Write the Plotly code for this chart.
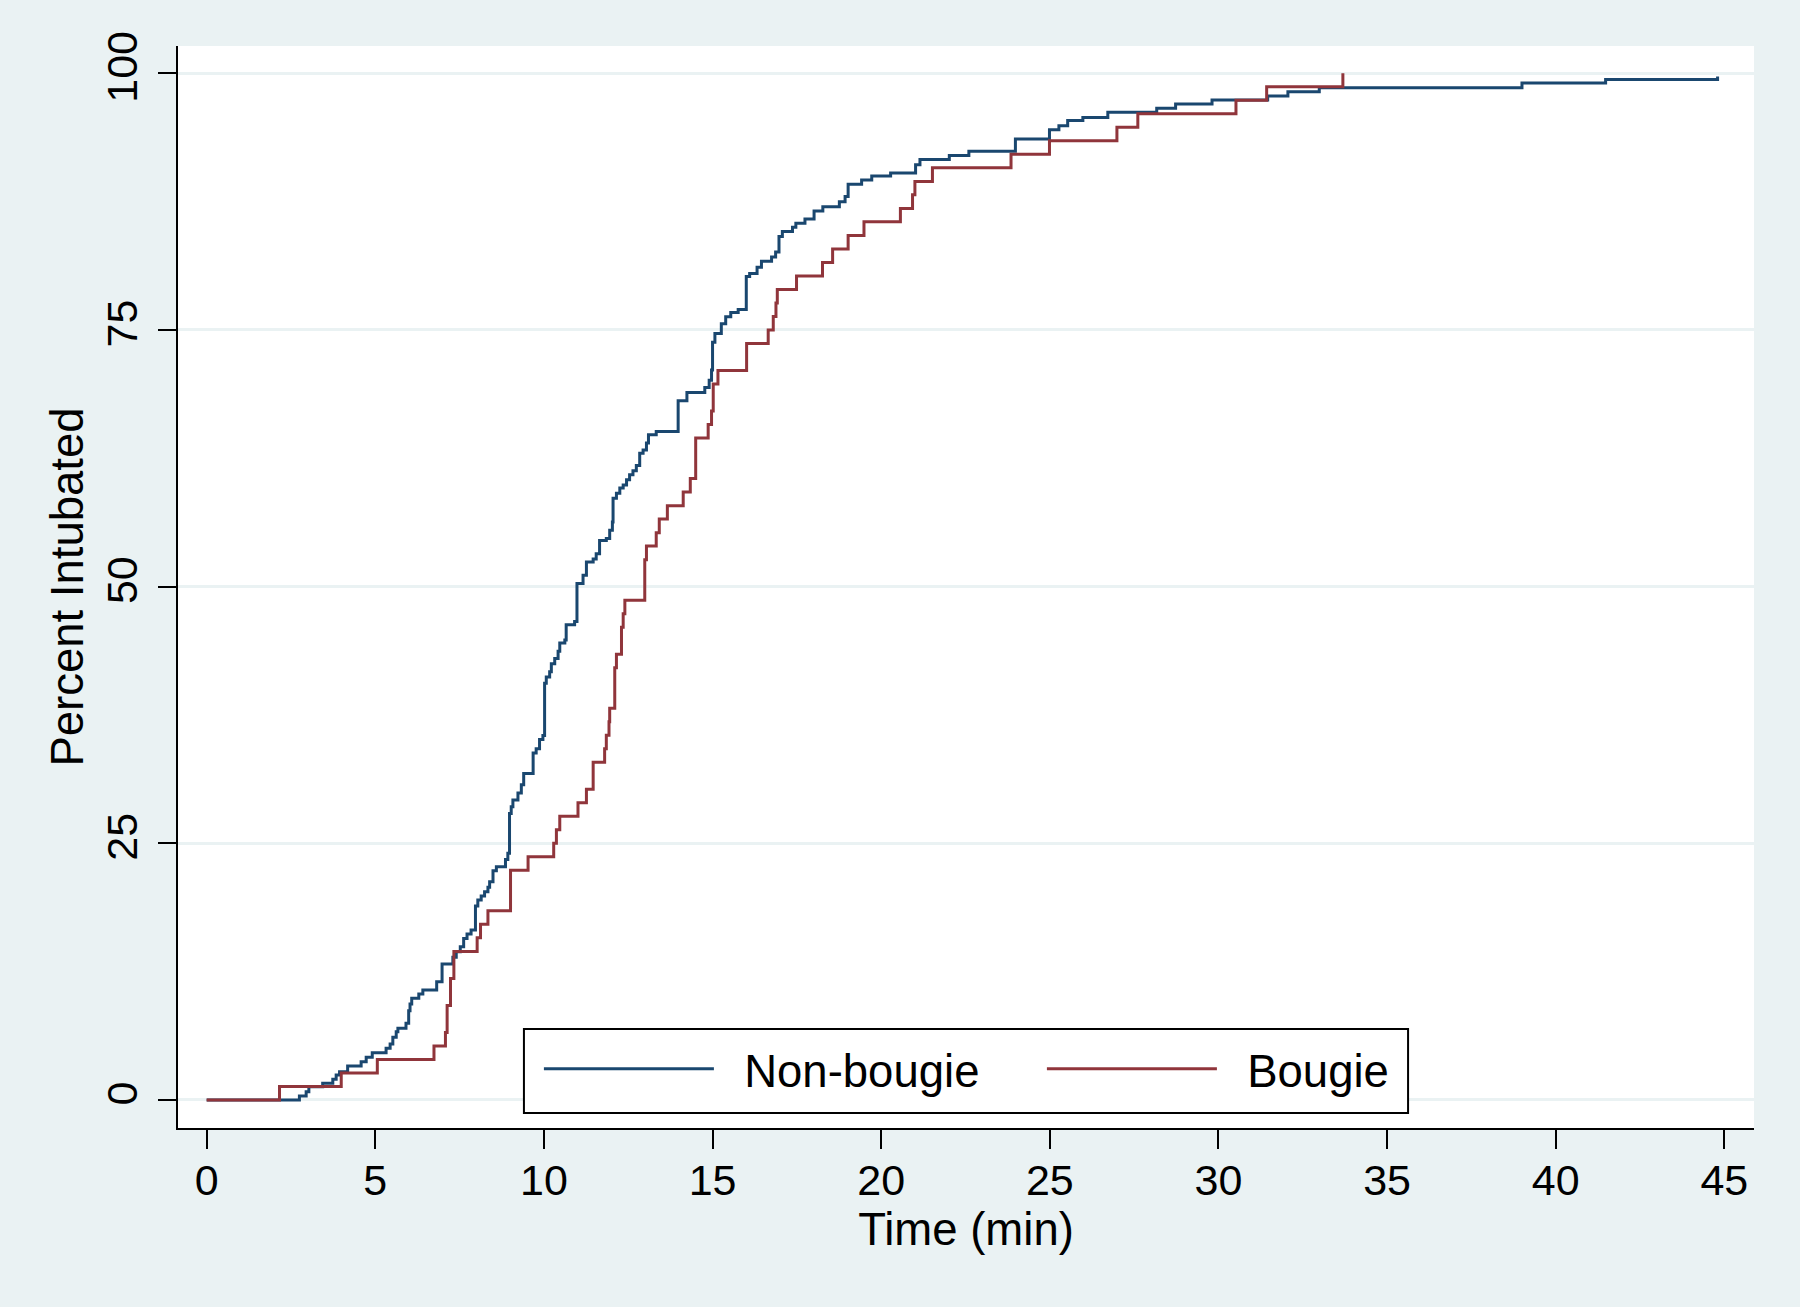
import plotly.graph_objects as go

# Kaplan-Meier style cumulative incidence (percent intubated)
nonbougie_time = [0, 2.75, 2.95, 3.03, 3.44, 3.74, 3.84, 3.94, 4.18, 4.58, 4.73, 4.91, 5.32, 5.44, 5.52,
                  5.62, 5.67, 5.91, 5.99, 6.03, 6.08, 6.29, 6.41, 6.82, 6.98, 7.30, 7.40, 7.52, 7.62, 7.72,
                  7.84, 7.97, 8.04, 8.14, 8.24, 8.34, 8.39, 8.49, 8.59, 8.86, 8.93, 8.98, 9.03, 9.08, 9.23,
                  9.33, 9.40, 9.68, 9.77, 9.87, 9.97, 10.02, 10.07, 10.17, 10.22, 10.32, 10.42, 10.47, 10.62,
                  10.66, 10.91, 10.98, 11.16, 11.26, 11.46, 11.55, 11.65, 11.85, 11.95, 12.03, 12.05, 12.15,
                  12.25, 12.35, 12.45, 12.54, 12.64, 12.74, 12.84, 12.94, 13.04, 13.10, 13.33, 13.98, 14.24,
                  14.77, 14.90, 14.97, 15.00, 15.07, 15.26, 15.39, 15.54, 15.76, 16.00, 16.10, 16.32, 16.45,
                  16.75, 16.87, 16.97, 17.07, 17.37, 17.47, 17.74, 18.01, 18.27, 18.76, 18.93, 19.02, 19.42,
                  19.72, 20.28, 21.02, 21.15, 22.02, 22.60, 23.98, 24.99, 25.27, 25.53, 25.98, 26.72, 28.17,
                  28.73, 29.81, 31.46, 32.06, 32.99, 39.00, 41.48, 44.80]
nonbougie_pct = [0, 0.39, 0.81, 1.30, 1.62, 2.01, 2.43, 2.76, 3.31, 3.73, 4.15, 4.61, 5.03, 5.45, 6.10,
                 6.65, 6.98, 7.47, 8.70, 9.35, 9.90, 10.32, 10.71, 11.52, 13.24, 13.89, 14.44, 14.93, 15.74, 16.16,
                 16.55, 18.89, 19.47, 19.86, 20.29, 20.71, 21.26, 22.33, 22.72, 23.43, 24.02, 27.91, 28.56, 29.21, 29.90,
                 30.70, 31.80, 33.80, 34.20, 35.10, 35.50, 40.60, 41.20, 41.70, 42.50, 43.00, 43.70, 44.50, 44.80,
                 46.30, 46.60, 50.30, 51.10, 52.40, 52.70, 53.20, 54.50, 54.70, 55.50, 56.30, 58.60, 59.10,
                 59.60, 59.90, 60.40, 60.90, 61.30, 61.80, 63.00, 63.30, 64.00, 64.80, 65.10, 68.10, 68.90,
                 69.40, 70.10, 71.10, 73.80, 74.65, 75.60, 76.30, 76.70, 77.00, 80.20, 80.50, 81.10, 81.70,
                 82.10, 82.60, 84.10, 84.60, 85.00, 85.40, 85.80, 86.60, 87.00, 87.50, 88.00, 89.20, 89.60,
                 90.00, 90.30, 91.10, 91.60, 92.00, 92.40, 93.60, 94.50, 94.90, 95.40, 95.70, 96.20, 96.60,
                 97.00, 97.40, 97.80, 98.20, 98.60, 99.05, 99.40, 99.70]

bougie_time = [0, 2.16, 3.99, 5.06, 6.74, 7.08, 7.13, 7.23, 7.33, 8.02, 8.12, 8.34, 9.01, 9.53, 10.29,
               10.37, 10.47, 11.01, 11.26, 11.46, 11.80, 11.85, 11.93, 11.95, 12.10, 12.15, 12.30, 12.35,
               12.40, 12.99, 13.04, 13.33, 13.42, 13.66, 14.13, 14.34, 14.50, 14.87, 14.97, 15.02, 15.16,
               16.01, 16.65, 16.80, 16.88, 16.92, 17.49, 18.26, 18.56, 19.02, 19.49, 20.57, 20.93, 21.00,
               21.52, 23.85, 24.99, 26.99, 27.61, 30.52, 31.43, 33.69]
bougie_pct = [0, 1.32, 2.63, 3.95, 5.26, 6.58, 9.21, 11.84, 14.47, 15.79, 17.11, 18.42, 22.37, 23.68, 25.00,
              26.32, 27.63, 28.95, 30.26, 32.89, 34.21, 35.53, 36.84, 38.16, 42.11, 43.42, 46.05, 47.37,
              48.68, 52.63, 53.95, 55.26, 56.58, 57.89, 59.21, 60.53, 64.47, 65.79, 67.11, 69.74, 71.05,
              73.68, 75.00, 76.32, 77.63, 78.95, 80.26, 81.58, 82.89, 84.21, 85.53, 86.84, 88.16, 89.47,
              90.79, 92.11, 93.42, 94.74, 96.05, 97.37, 98.68, 100.00]

series_names = ["Non-bougie", "Bougie"]
x_ticks = [0, 5, 10, 15, 20, 25, 30, 35, 40, 45]
y_ticks = [0, 25, 50, 75, 100]

NAVY = "#1a476f"
MAROON = "#90353b"
BG = "#eaf2f3"
FONT = "Liberation Sans, Arial, sans-serif"
FS = 43
FS_TITLE = 45.5

PAD = "\u00a0\u00a0"  # small gap between legend key line and label

fig = go.Figure()
fig.add_trace(go.Scatter(x=nonbougie_time, y=nonbougie_pct, mode="lines", line_shape="hv",
                         name=PAD + series_names[0], line=dict(color=NAVY, width=3)))
fig.add_trace(go.Scatter(x=bougie_time, y=bougie_pct, mode="lines", line_shape="hv",
                         name=PAD + series_names[1], line=dict(color=MAROON, width=3)))

# legend frame (white box with black outline) sitting on top of the plot lines
fig.add_shape(type="rect", xref="paper", yref="paper", x0=0.2195, x1=0.7805, y0=0.0139, y1=0.0915,
              fillcolor="white", line=dict(color="black", width=2), layer="above")

fig.update_layout(
    width=1800, height=1307,
    paper_bgcolor=BG, plot_bgcolor="white",
    margin=dict(l=178, r=46, t=46, b=179),
    font=dict(family=FONT, size=FS, color="black"),
    showlegend=True,
    legend=dict(orientation="h", x=0.229, y=0.088, xanchor="left", yanchor="top",
                bgcolor="rgba(0,0,0,0)", borderwidth=0,
                font=dict(size=FS_TITLE), itemwidth=170, entrywidth=318, entrywidthmode="pixels"),
    xaxis=dict(range=[-0.85, 45.88], tickvals=x_ticks, ticks="outside", ticklen=19, tickwidth=2,
               tickcolor="black", showline=True, linecolor="black", linewidth=2, showgrid=False,
               zeroline=False, ticklabelstandoff=-6,
               title=dict(text="Time (min)", standoff=2, font=dict(size=FS_TITLE)),
               tickfont=dict(size=FS)),
    yaxis=dict(range=[-2.73, 102.66], tickvals=y_ticks, ticks="outside", ticklen=18, tickwidth=2,
               tickcolor="black", showline=True, linecolor="black", linewidth=2, showgrid=True,
               gridcolor=BG, gridwidth=3, zeroline=False, tickangle=-90, ticklabelstandoff=4,
               title=dict(text="Percent Intubated", standoff=0, font=dict(size=FS_TITLE)),
               tickfont=dict(size=FS)),
)

fig.write_html("out.html", config={"displayModeBar": False},
               post_script="document.body.style.margin='0';")
